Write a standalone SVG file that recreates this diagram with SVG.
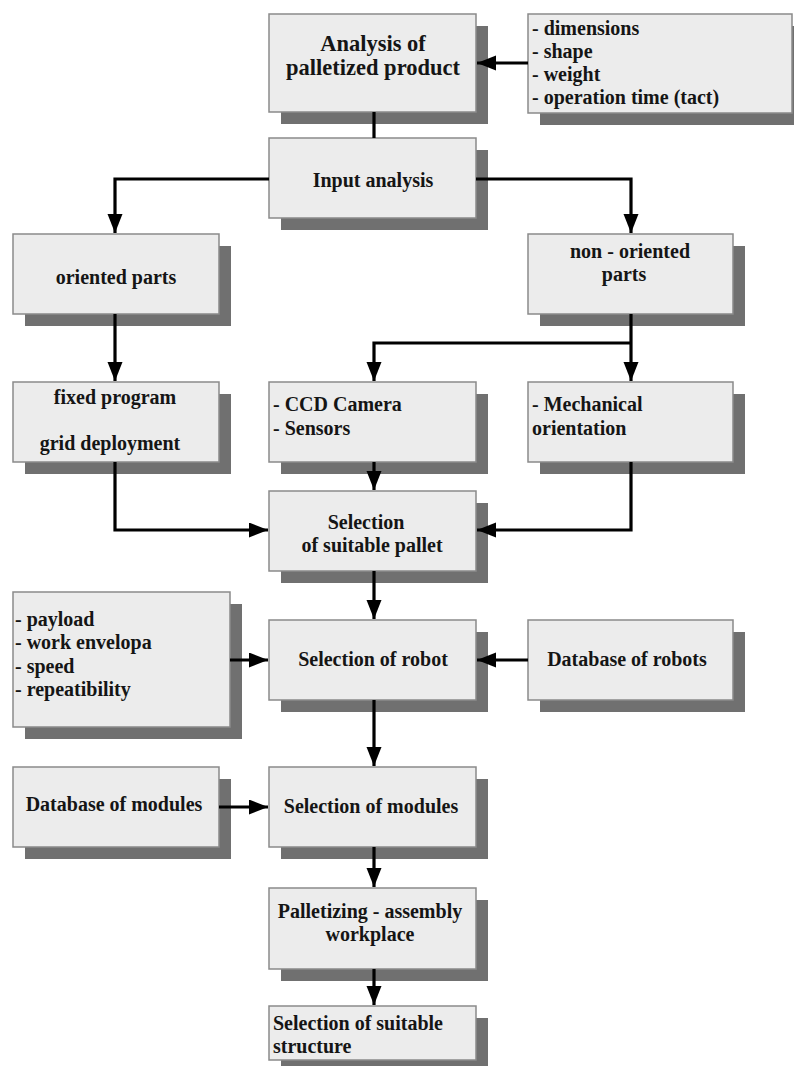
<svg xmlns="http://www.w3.org/2000/svg" width="794" height="1066" viewBox="0 0 794 1066">
<defs>
<style>
.sh{fill:#707070}
.bx{fill:#ececec;stroke:#8a8a8a;stroke-width:1.5}
.t{font-family:"Liberation Serif","Times New Roman",serif;font-weight:bold;font-size:20px;fill:#151515}
.c{text-anchor:middle}
.big{font-size:22.5px}
.cn{fill:none;stroke:#000;stroke-width:3.2}
</style>
<marker id="ah" markerUnits="userSpaceOnUse" markerWidth="20" markerHeight="16" refX="19" refY="7.5" orient="auto">
<path d="M0,0 L19,7.5 L0,15 z" fill="#000"/>
</marker>
</defs>
<rect width="794" height="1066" fill="#fff"/>

<g id="analysis">
<rect class="sh" x="281" y="26" width="207" height="98"/>
<rect class="bx" x="269" y="14" width="207" height="98"/>
<text class="t c big" x="373" y="51">Analysis of</text>
<text class="t c big" x="373" y="75">palletized product</text>
</g>

<g id="product-properties">
<rect class="sh" x="540" y="26" width="264" height="99"/>
<rect class="bx" x="528" y="14" width="264" height="99"/>
<text class="t" x="532" y="35">- dimensions</text>
<text class="t" x="532" y="58">- shape</text>
<text class="t" x="532" y="81">- weight</text>
<text class="t" x="532" y="104">- operation time (tact)</text>
</g>

<g id="input-analysis">
<rect class="sh" x="281" y="150" width="207" height="80"/>
<rect class="bx" x="269" y="138" width="207" height="80"/>
<text class="t c" x="373" y="187">Input analysis</text>
</g>

<g id="oriented-parts">
<rect class="sh" x="25" y="246" width="206" height="80"/>
<rect class="bx" x="13" y="234" width="206" height="80"/>
<text class="t c" x="116" y="284">oriented parts</text>
</g>

<g id="non-oriented-parts">
<rect class="sh" x="540" y="246" width="205" height="80"/>
<rect class="bx" x="528" y="234" width="205" height="80"/>
<text class="t c" x="630" y="258">non - oriented</text>
<text class="t c" x="624" y="281">parts</text>
</g>

<g id="fixed-program">
<rect class="sh" x="25" y="394" width="206" height="80"/>
<rect class="bx" x="13" y="382" width="206" height="80"/>
<text class="t c" x="115" y="404">fixed program</text>
<text class="t c" x="110" y="450">grid deployment</text>
</g>

<g id="ccd-camera">
<rect class="sh" x="281" y="394" width="207" height="80"/>
<rect class="bx" x="269" y="382" width="207" height="80"/>
<text class="t" x="273" y="411">- CCD Camera</text>
<text class="t" x="273" y="435">- Sensors</text>
</g>

<g id="mechanical-orientation">
<rect class="sh" x="540" y="394" width="205" height="80"/>
<rect class="bx" x="528" y="382" width="205" height="80"/>
<text class="t" x="532" y="411">- Mechanical</text>
<text class="t" x="532" y="435">orientation</text>
</g>

<g id="selection-pallet">
<rect class="sh" x="281" y="503" width="207" height="80"/>
<rect class="bx" x="269" y="491" width="207" height="80"/>
<text class="t c" x="366" y="529">Selection</text>
<text class="t c" x="372" y="552">of suitable pallet</text>
</g>

<g id="robot-parameters">
<rect class="sh" x="25" y="604" width="217" height="135"/>
<rect class="bx" x="13" y="592" width="217" height="135"/>
<text class="t" x="15" y="626">- payload</text>
<text class="t" x="15" y="649">- work envelopa</text>
<text class="t" x="15" y="673">- speed</text>
<text class="t" x="15" y="696">- repeatibility</text>
</g>

<g id="selection-robot">
<rect class="sh" x="281" y="632" width="207" height="80"/>
<rect class="bx" x="269" y="620" width="207" height="80"/>
<text class="t c" x="373" y="666">Selection of robot</text>
</g>

<g id="database-robots">
<rect class="sh" x="540" y="632" width="205" height="80"/>
<rect class="bx" x="528" y="620" width="205" height="80"/>
<text class="t c" x="627" y="666">Database of robots</text>
</g>

<g id="database-modules">
<rect class="sh" x="25" y="779" width="206" height="80"/>
<rect class="bx" x="13" y="767" width="206" height="80"/>
<text class="t c" x="114" y="811">Database of modules</text>
</g>

<g id="selection-modules">
<rect class="sh" x="281" y="779" width="207" height="80"/>
<rect class="bx" x="269" y="767" width="207" height="80"/>
<text class="t c" x="371" y="813">Selection of modules</text>
</g>

<g id="palletizing-workplace">
<rect class="sh" x="281" y="900" width="207" height="81"/>
<rect class="bx" x="269" y="888" width="207" height="81"/>
<text class="t c" x="370" y="918">Palletizing - assembly</text>
<text class="t c" x="370" y="941">workplace</text>
</g>

<g id="selection-structure">
<rect class="sh" x="281" y="1018" width="207" height="54"/>
<rect class="bx" x="269" y="1006" width="207" height="54"/>
<text class="t" x="273" y="1030">Selection of suitable</text>
<text class="t" x="273" y="1053">structure</text>
</g>

<g id="connectors">
<path class="cn" d="M528,63 H477" marker-end="url(#ah)"/>
<path class="cn" d="M374,112 V138"/>
<path class="cn" d="M269,179 H115 V233" marker-end="url(#ah)"/>
<path class="cn" d="M476,179 H631 V233" marker-end="url(#ah)"/>
<path class="cn" d="M115,314 V381" marker-end="url(#ah)"/>
<path class="cn" d="M631,314 V381" marker-end="url(#ah)"/>
<path class="cn" d="M631,343 H374 V381" marker-end="url(#ah)"/>
<path class="cn" d="M115,462 V530 H268" marker-end="url(#ah)"/>
<path class="cn" d="M374,462 V490" marker-end="url(#ah)"/>
<path class="cn" d="M631,462 V530 H477" marker-end="url(#ah)"/>
<path class="cn" d="M374,571 V619" marker-end="url(#ah)"/>
<path class="cn" d="M230,660 H268" marker-end="url(#ah)"/>
<path class="cn" d="M528,660 H477" marker-end="url(#ah)"/>
<path class="cn" d="M374,700 V766" marker-end="url(#ah)"/>
<path class="cn" d="M219,807 H268" marker-end="url(#ah)"/>
<path class="cn" d="M374,847 V887" marker-end="url(#ah)"/>
<path class="cn" d="M374,969 V1005" marker-end="url(#ah)"/>
</g>
</svg>
